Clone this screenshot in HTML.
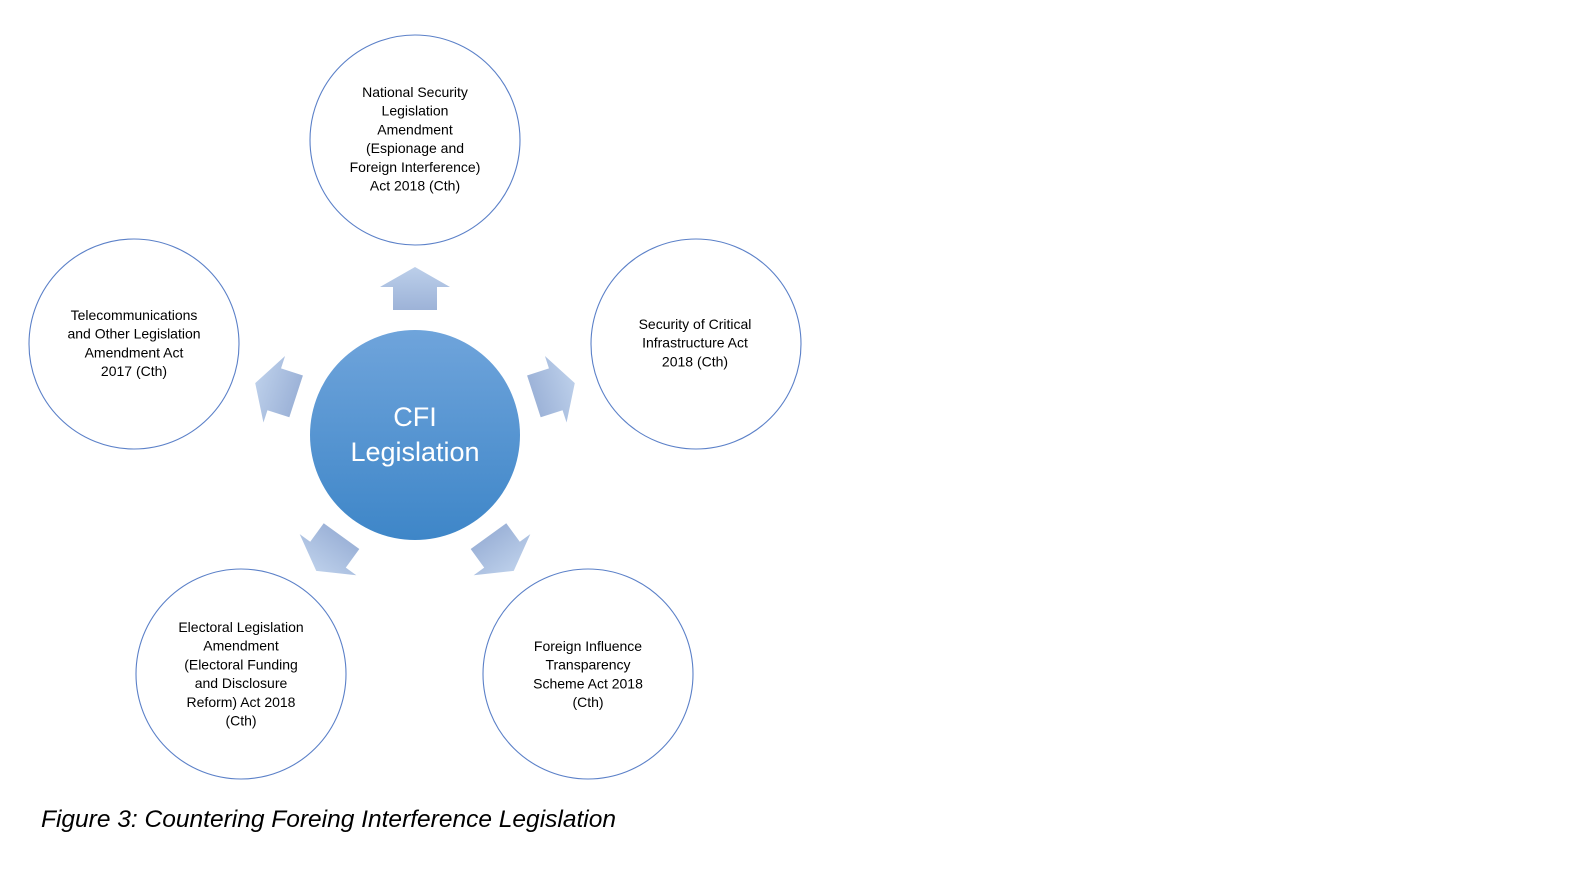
<!DOCTYPE html>
<html><head><meta charset="utf-8"><style>
body{margin:0;background:#fff;width:1573px;height:876px;overflow:hidden;}
svg{position:absolute;left:0;top:0;}
.t{font-family:"Liberation Sans",sans-serif;font-size:14px;fill:#000;text-anchor:middle;}
</style></head><body>
<svg width="1573" height="876" viewBox="0 0 1573 876">
<defs>
<linearGradient id="ag" x1="0" y1="0" x2="0" y2="1"><stop offset="0" stop-color="#bccfea"/><stop offset="1" stop-color="#9db3d8"/></linearGradient>
<linearGradient id="cg" x1="0" y1="0" x2="0" y2="1"><stop offset="0" stop-color="#6fa4db"/><stop offset="1" stop-color="#3e86c8"/></linearGradient>
<polygon id="ar" points="415,267 450,287 437,287 437,310 393,310 393,287 380,287" fill="url(#ag)"/>
</defs>
<g fill="#fff" stroke="#5b80c8" stroke-width="1.1">
<circle cx="415" cy="140" r="105"/>
<circle cx="696" cy="344" r="105"/>
<circle cx="134" cy="344" r="105"/>
<circle cx="241" cy="674" r="105"/>
<circle cx="588" cy="674" r="105"/>
</g>
<use href="#ar"/>
<use href="#ar" transform="rotate(72 415 435)"/>
<use href="#ar" transform="rotate(144 415 435)"/>
<use href="#ar" transform="rotate(216 415 435)"/>
<use href="#ar" transform="rotate(288 415 435)"/>
<circle cx="415" cy="435" r="105" fill="url(#cg)"/>
<text x="415" y="426" text-anchor="middle" font-family="Liberation Sans,sans-serif" font-size="27" fill="#fff">CFI</text>
<text x="415" y="461" text-anchor="middle" font-family="Liberation Sans,sans-serif" font-size="27" fill="#fff">Legislation</text>
<text class="t" x="415" y="97">National Security<tspan x="415" dy="18.7">Legislation</tspan><tspan x="415" dy="18.7">Amendment</tspan><tspan x="415" dy="18.7">(Espionage and</tspan><tspan x="415" dy="18.7">Foreign Interference)</tspan><tspan x="415" dy="18.7">Act 2018 (Cth)</tspan></text>
<text class="t" x="695" y="329">Security of Critical<tspan x="695" dy="18.7">Infrastructure Act</tspan><tspan x="695" dy="18.7">2018 (Cth)</tspan></text>
<text class="t" x="134" y="320">Telecommunications<tspan x="134" dy="18.7">and Other Legislation</tspan><tspan x="134" dy="18.7">Amendment Act</tspan><tspan x="134" dy="18.7">2017 (Cth)</tspan></text>
<text class="t" x="241" y="632">Electoral Legislation<tspan x="241" dy="18.7">Amendment</tspan><tspan x="241" dy="18.7">(Electoral Funding</tspan><tspan x="241" dy="18.7">and Disclosure</tspan><tspan x="241" dy="18.7">Reform) Act 2018</tspan><tspan x="241" dy="18.7">(Cth)</tspan></text>
<text class="t" x="588" y="651">Foreign Influence<tspan x="588" dy="18.7">Transparency</tspan><tspan x="588" dy="18.7">Scheme Act 2018</tspan><tspan x="588" dy="18.7">(Cth)</tspan></text>
<text x="41" y="827" font-family="Liberation Sans,sans-serif" font-size="24" font-style="italic" fill="#000" textLength="575" lengthAdjust="spacingAndGlyphs">Figure 3: Countering Foreing Interference Legislation</text>
</svg>
</body></html>
